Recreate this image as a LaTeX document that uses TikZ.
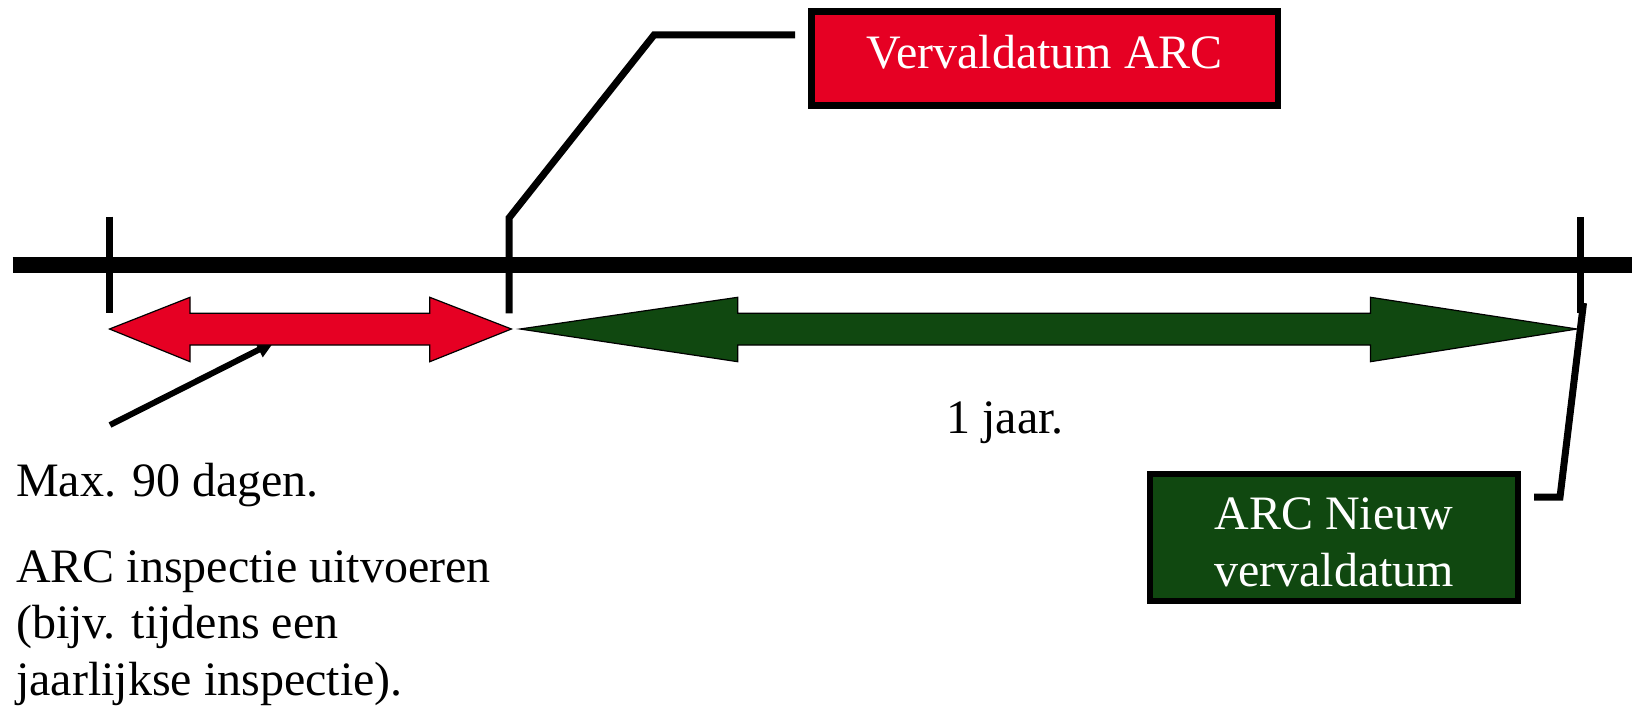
\documentclass[tikz,border=0pt]{standalone}
\usepackage{fontspec}
\setmainfont{Liberation Serif}
\usetikzlibrary{arrows.meta}
\definecolor{arcred}{RGB}{230,0,35}
\definecolor{arcgreen}{RGB}{16,72,16}
\begin{document}
\begin{tikzpicture}[x=1pt,y=-1pt,
  txt/.style={font=\fontsize{48}{56.5}\selectfont, inner sep=0pt},
  boxstyle/.style={draw=black, line width=6.5pt, inner sep=0pt, font=\fontsize{48}{56.5}\selectfont, text=white},
  timeline/.style={line width=16pt},
  tickmark/.style={line width=7pt},
  leader/.style={line width=7pt, line join=miter},
  spanarrow/.style={draw=black, line width=1.2pt, line join=miter},
  pointer/.style={line width=6pt, -{Triangle[length=17pt,width=16pt]}}
]
\useasboundingbox (0,0) rectangle (1632,709);

% boxes
\node[boxstyle, fill=arcred, minimum width=466.5pt, minimum height=93.8pt,
      text height=32.8pt, text depth=13.4pt] (vervaldatum) at (1044.75,58.6) {Vervaldatum ARC};
\node[boxstyle, fill=arcgreen, line width=6pt, minimum width=368pt, minimum height=127.3pt] (nieuw) at (1334,537.35) {};
\node[txt, text=white, align=center] (nieuwtext) at (1334,542.2) {ARC Nieuw\\vervaldatum};

% timeline
\coordinate (tlstart) at (12.7,265.3);
\coordinate (tlend) at (1632,265.3);
\draw[timeline] (tlstart) -- (tlend);

% ticks
\coordinate (t1top) at (109.5,216.7);
\coordinate (t1bot) at (109.5,313.3);
\draw[tickmark] (t1top) -- (t1bot);
\coordinate (t3top) at (1580.5,217);
\coordinate (t3bot) at (1580.5,313.3);
\draw[tickmark] (t3top) -- (t3bot);

% middle tick with leader to red box
\coordinate (t2bot) at (509,313.3);
\coordinate (t2bend) at (509,218);
\coordinate (t2knee) at (654,35);
\coordinate (t2end) at (795,35);
\draw[leader] (t2bot) -- (t2bend) -- (t2knee) -- (t2end);

% pointer to red arrow
\coordinate (ptail) at (110,425);
\coordinate (ptip) at (274,342);
\draw[pointer] (ptail) -- (ptip);

% red double arrow
\filldraw[spanarrow, fill=arcred] (109.5,329) -- (190,297.3) -- (190,313.3) -- (429.8,313.3) -- (429.8,297.3)
  -- (511.4,329) -- (429.8,361.7) -- (429.8,345) -- (190,345) -- (190,361.7) -- cycle;

% green double arrow
\filldraw[spanarrow, fill=arcgreen] (520,329) -- (737.7,297.3) -- (737.7,313.3) -- (1370.5,313.3) -- (1370.5,297.3)
  -- (1577,329) -- (1370.5,361.7) -- (1370.5,345) -- (737.7,345) -- (737.7,361.7) -- cycle;

% right leader to green box
\coordinate (r1) at (1583.5,303);
\coordinate (r2) at (1560,497);
\coordinate (r3) at (1534,497);
\draw[leader] (r1) -- (r2) -- (r3);

% texts
\node[txt, anchor=base] (year) at (1005,433.3) {1 jaar.};
\node[txt, anchor=base west] (maxdays) at (16,496.7) {Max. 90 dagen.};
\node[txt, anchor=north west, align=left] (inspect) at (16,550.5) {ARC inspectie uitvoeren\\(bijv. tijdens een\\jaarlijkse inspectie).};
\end{tikzpicture}
\end{document}
